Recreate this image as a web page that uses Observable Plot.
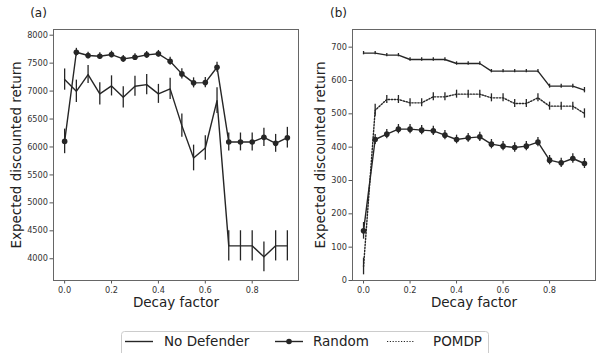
<!DOCTYPE html>
<html>
<head>
<meta charset="utf-8">
<script src="https://cdn.jsdelivr.net/npm/d3@7"></script>
<script src="https://cdn.jsdelivr.net/npm/@observablehq/plot@0.6"></script>
<style>
  html, body { margin: 0; padding: 0; background: #fff; }
  #wrap { position: relative; width: 596px; height: 353px; overflow: hidden; font-family: "DejaVu Sans", sans-serif; }
  #pa, #pb { position: absolute; top: 0; }
  #pa { left: 0; }
  #pb { left: 300px; }
  #legend { position: absolute; left: 121px; top: 331px; }
</style>
</head>
<body>
<div id="wrap">
  <div id="pa"></div>
  <div id="pb"></div>
  <div id="legend"></div>
</div>
<script>
// ---- data ----
const decay = [0, 0.05, 0.1, 0.15, 0.2, 0.25, 0.3, 0.35, 0.4, 0.45, 0.5, 0.55, 0.6, 0.65, 0.7, 0.75, 0.8, 0.85, 0.9, 0.95];
const xTicks = [0, 0.2, 0.4, 0.6, 0.8];

// panel (a)
const aNoDefender = [7206, 6996, 7296, 6950, 7093, 6889, 7086, 7116, 6950, 7039, 6382, 5803, 5982, 6830, 4231, 4231, 4231, 4034, 4231, 4231];
const aNoDefenderErr = [190, 200, 160, 200, 180, 190, 180, 180, 170, 190, 210, 230, 220, 230, 270, 270, 270, 265, 270, 270];
const aRandom = [6100, 7695, 7636, 7624, 7654, 7577, 7606, 7648, 7667, 7534, 7308, 7147, 7152, 7427, 6090, 6090, 6090, 6172, 6065, 6166];
const aRandomErr = [220, 70, 60, 60, 60, 60, 60, 60, 60, 70, 90, 90, 90, 90, 160, 160, 160, 165, 160, 185];
const aYTicks = [4000, 4500, 5000, 5500, 6000, 6500, 7000, 7500, 8000];

// panel (b)
const bNoDefender = [682, 682, 676, 676, 663, 663, 663, 663, 651, 651, 651, 628, 628, 628, 628, 628, 583, 583, 583, 571];
const bNoDefenderErr = [5, 5, 5, 5, 5, 5, 5, 5, 5, 5, 5, 5, 5, 5, 5, 5, 6, 6, 6, 8];
const bRandom = [149, 423, 439, 454, 454, 451, 449, 436, 423, 428, 431, 409, 403, 399, 403, 415, 361, 353, 366, 351];
const bRandomErr = [25, 15, 14, 14, 14, 14, 14, 14, 13, 13, 14, 14, 14, 14, 14, 14, 14, 14, 14, 15];
const bPOMDP = [42, 511, 543, 543, 533, 533, 551, 551, 559, 559, 559, 548, 548, 531, 531, 548, 523, 523, 523, 501];
const bPOMDPErr = [25, 18, 12, 12, 12, 12, 12, 12, 12, 12, 12, 12, 12, 12, 12, 12, 12, 12, 12, 14];
const bYTicks = [0, 100, 200, 300, 400, 500, 600, 700];

const INK = "#262626";

function rows(mean, err) {
  return decay.map((x, i) => ({x, y: mean[i], lo: mean[i] - err[i], hi: mean[i] + err[i]}));
}

function seriesMarks(data, kind) {
  const dash = kind === "pomdp" ? "1.4,1.6" : null;
  const m = [
    Plot.ruleX(data, {x: "x", y1: "lo", y2: "hi", stroke: INK, strokeWidth: 1.3}),
    Plot.line(data, {x: "x", y: "y", stroke: INK, strokeWidth: 1.4, strokeDasharray: dash})
  ];
  if (kind === "random") m.push(Plot.dot(data, {x: "x", y: "y", r: 2.8, fill: INK, stroke: "none"}));
  return m;
}

function panel({width, marginLeft, marginRight, yDomain, yTicks, series, title, titleDx, ylabDx}) {
  return Plot.plot({
    width, height: 310,
    marginTop: 29, marginBottom: 30, marginLeft, marginRight,
    style: {fontFamily: "DejaVu Sans", background: "transparent", color: "#333"},
    x: {domain: [-0.0475, 0.9975]},
    y: {domain: yDomain},
    marks: [
      Plot.axisX({ticks: xTicks, tickSize: 3.5, tickPadding: 3, tickFormat: d3.format(".1f"), fontSize: 8.2, label: null, stroke: "#555", fill: "#333"}),
      Plot.axisY({ticks: yTicks, tickSize: 3.5, tickPadding: 2, tickFormat: d => String(d), fontSize: 8.2, label: null, stroke: "#555", fill: "#333"}),
      ...series.flatMap(([d, k]) => seriesMarks(d, k)),
      Plot.frame({stroke: "#666", strokeWidth: 1}),
      Plot.text(["Decay factor"], {frameAnchor: "bottom", dy: 22.5, lineAnchor: "middle", textAnchor: "middle", fontSize: 13.5, fill: "#222"}),
      Plot.text(["Expected discounted return"], {frameAnchor: "left", dx: ylabDx, rotate: -90, textAnchor: "middle", lineAnchor: "middle", fontSize: 13.5, fill: "#222"}),
      Plot.text([title], {frameAnchor: "top-left", dx: titleDx, dy: -16, textAnchor: "middle", lineAnchor: "middle", fontSize: 12, fill: "#222"})
    ]
  });
}

document.getElementById("pa").append(panel({
  width: 300, marginLeft: 53, marginRight: 2,
  yDomain: [3611, 8102], yTicks: aYTicks,
  series: [[rows(aNoDefender, aNoDefenderErr), "none"], [rows(aRandom, aRandomErr), "random"]],
  title: "(a)", titleDx: -15, ylabDx: -37
}));

document.getElementById("pb").append(panel({
  width: 296, marginLeft: 52, marginRight: 1,
  yDomain: [0, 753], yTicks: bYTicks,
  series: [[rows(bNoDefender, bNoDefenderErr), "none"], [rows(bPOMDP, bPOMDPErr), "pomdp"], [rows(bRandom, bRandomErr), "random"]],
  title: "(b)", titleDx: -14, ylabDx: -32
}));

// ---- legend ----
const legendItems = ["No Defender", "Random", "POMDP"];
const legendX = [4, 154, 266];
const textX = [43, 192, 312];
const ns = "http://www.w3.org/2000/svg";
const lg = document.createElementNS(ns, "svg");
lg.setAttribute("width", 370);
lg.setAttribute("height", 24);
lg.style.fontFamily = "DejaVu Sans";
let html = `<rect x="0.5" y="0.5" width="367" height="30" rx="3" fill="#fff" stroke="#ccc"/>`;
legendItems.forEach((name, i) => {
  const x0 = legendX[i], x1 = x0 + 28, cy = 10.5;
  const dash = name === "POMDP" ? ` stroke-dasharray="1.2,1.6"` : "";
  const sw = name === "POMDP" ? 1.1 : 1.4;
  html += `<line x1="${x0}" x2="${x1}" y1="${cy}" y2="${cy}" stroke="${INK}" stroke-width="${sw}"${dash}/>`;
  if (name === "Random") html += `<circle cx="${(x0 + x1) / 2}" cy="${cy}" r="2.8" fill="${INK}"/>`;
  html += `<text x="${textX[i]}" y="${cy}" dy="0.35em" font-size="13.5" fill="#222">${name}</text>`;
});
lg.innerHTML = html;
document.getElementById("legend").append(lg);
</script>
</body>
</html>
